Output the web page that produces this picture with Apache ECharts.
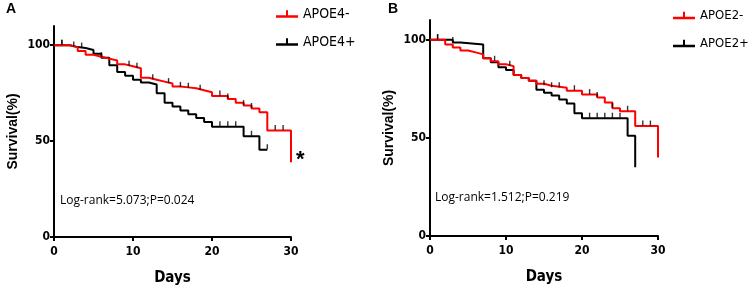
<!DOCTYPE html>
<html>
<head>
<meta charset="utf-8">
<script src="https://cdn.jsdelivr.net/npm/echarts@6/dist/echarts.min.js"></script>
<style>
  html, body { margin: 0; padding: 0; background: #fff; }
  #chart { width: 749px; height: 291px; }
</style>
</head>
<body>
<div id="chart"></div>
<script>
// 面板 A：APOE4
var aNegDays = [0, 2, 3, 4, 5, 6, 7, 8, 9, 10, 11, 12, 13, 14, 15, 16, 17, 18, 19, 20, 22, 23, 24, 25, 26, 27, 30];
var aNegSurv = [100, 99, 97, 95, 94, 93, 92, 90, 89, 88, 83, 82, 81, 80, 78.5, 78, 77.5, 76.5, 75.5, 73.5, 72, 70, 68.5, 67, 65, 55.5, 39];
var aPosDays = [0, 2, 3, 4, 5, 6, 7, 8, 9, 10, 11, 12, 13, 14, 15, 16, 17, 18, 19, 20, 24, 26, 27];
var aPosSurv = [100, 99, 98.5, 97.5, 95.5, 93.5, 89.5, 86, 84, 82, 80.5, 79.5, 75, 70, 68, 66, 64, 62, 60, 57.5, 52.5, 45.5, 45.5];
var aNegCensor = [1, 9.5, 10.5, 12.5, 14.5, 16, 17, 18.5, 21, 22, 24, 25, 28, 29];
var aPosCensor = [1, 2.5, 3.5, 6, 21, 22, 23, 25, 27];

// 面板 B：APOE2
var bNegDays = [0, 2, 3, 4, 5, 6, 7, 8, 9, 10, 11, 12, 13, 14, 15, 16, 18, 20, 22, 23, 24, 25, 27, 30];
var bNegSurv = [100, 97.5, 96, 94.5, 93.5, 92.5, 90.5, 89, 87.5, 86.5, 82, 80.5, 79, 77.5, 76.5, 75.5, 74, 72, 70.5, 68, 65, 63.5, 56, 40];
var bPosDays = [0, 3, 4, 7, 8, 9, 10, 11, 12, 13, 14, 15, 16, 17, 18, 19, 20, 26, 27];
var bPosSurv = [100, 98.5, 97.5, 90.5, 88.5, 86, 84.5, 82, 80.5, 79, 74.5, 73, 71.5, 69.5, 67.5, 62.5, 60, 51, 35];
var bNegCensor = [1, 8.5, 10.5, 15, 16, 17, 19, 21, 22, 24, 26, 28, 29];
var bPosCensor = [1, 3, 21, 22, 23, 24, 25];

var yTicks = [0, 50, 100];

function pairs(days, surv) {
    return days.map(function (d, i) { return [d, surv[i]]; });
}
// 删失点落在阶梯曲线上
function censorPts(times, days, surv) {
    return times.map(function (t) {
        var v = surv[0];
        for (var i = 0; i < days.length; i++) {
            if (days[i] <= t) v = surv[i];
        }
        return [t, v];
    });
}

var axisFont = "'DejaVu Sans Condensed', 'Liberation Sans', sans-serif";
var legendIcon = 'path://M0,7h22v2.4H0z M10,2h2v5h-2z';

function xAxis(idx) {
    return {
        gridIndex: idx, type: 'value', min: 0, max: 30, interval: 10,
        name: 'Days', nameLocation: 'middle', nameGap: 34,
        nameTextStyle: { color: '#000', fontSize: 15, fontWeight: 'bold', fontFamily: axisFont },
        axisLine: { lineStyle: { color: '#000', width: 2 } },
        axisTick: { length: 4, lineStyle: { width: 2, color: '#000' } },
        axisLabel: { color: '#000', fontSize: 12, fontWeight: 'bold', fontFamily: axisFont, margin: 9 },
        splitLine: { show: false }
    };
}
function yAxis(idx) {
    return {
        gridIndex: idx, type: 'value', min: 0, max: 110,
        name: 'Survival(%)', nameLocation: 'middle', nameGap: 34,
        nameTextStyle: { color: '#000', fontSize: 14, fontWeight: 'bold', fontFamily: 'Liberation Sans' },
        axisLine: { show: true, lineStyle: { color: '#000', width: 2 } },
        axisTick: { show: true, length: 4, customValues: yTicks, lineStyle: { width: 2, color: '#000' } },
        axisLabel: { color: '#000', fontSize: 12, fontWeight: 'bold', fontFamily: axisFont, margin: 4, customValues: yTicks },
        splitLine: { show: false }
    };
}
function kmLine(name, idx, days, surv, color, z) {
    return {
        name: name, type: 'line', step: 'end', xAxisIndex: idx, yAxisIndex: idx,
        data: pairs(days, surv), showSymbol: false, symbol: 'none', z: z,
        lineStyle: { color: color, width: 2 }, itemStyle: { color: color },
        animation: false
    };
}
function censor(idx, times, days, surv) {
    return {
        name: 'censor' + idx, type: 'scatter', xAxisIndex: idx, yAxisIndex: idx,
        data: censorPts(times, days, surv),
        symbol: 'rect', symbolSize: [1.4, 5], symbolOffset: [0, -3], z: 5,
        itemStyle: { color: '#000' }, silent: true, animation: false
    };
}

var chart = echarts.init(document.getElementById('chart'));
var option = {
    backgroundColor: '#fff',
    animation: false,
    grid: [
        { left: 54, top: 26, width: 237, height: 211 },
        { left: 430, top: 20, width: 228, height: 216 }
    ],
    xAxis: [xAxis(0), xAxis(1)],
    yAxis: [yAxis(0), yAxis(1)],
    legend: [
        {
            orient: 'vertical', left: 276, top: 7, padding: 0, itemWidth: 22, itemHeight: 10, itemGap: 14,
            textStyle: { color: '#000', fontSize: 14, fontFamily: axisFont },
            data: [{ name: 'APOE4-', icon: legendIcon }, { name: 'APOE4+', icon: legendIcon }]
        },
        {
            orient: 'vertical', left: 673, top: 9, padding: 0, itemWidth: 22, itemHeight: 10, itemGap: 15,
            textStyle: { color: '#000', fontSize: 13, fontFamily: axisFont },
            data: [{ name: 'APOE2-', icon: legendIcon }, { name: 'APOE2+', icon: legendIcon }]
        }
    ],
    graphic: [
        { type: 'text', left: 6, top: 2, style: { text: 'A', fontSize: 14, fontWeight: 'bold', fontFamily: 'Liberation Sans', fill: '#000' } },
        { type: 'text', left: 388, top: 2, style: { text: 'B', fontSize: 14, fontWeight: 'bold', fontFamily: 'Liberation Sans', fill: '#000' } },
        { type: 'text', left: 60, top: 195, style: { text: 'Log-rank=5.073;P=0.024', fontSize: 12, fontFamily: 'Open Sans', fill: '#000' } },
        { type: 'text', left: 435, top: 192, style: { text: 'Log-rank=1.512;P=0.219', fontSize: 12, fontFamily: 'Open Sans', fill: '#000' } },
        { type: 'text', left: 296, top: 149, style: { text: '*', fontSize: 22, fontWeight: 'bold', fontFamily: 'Liberation Sans', fill: '#000' } }
    ],
    series: [
        kmLine('APOE4-', 0, aNegDays, aNegSurv, '#ff0000', 3),
        kmLine('APOE4+', 0, aPosDays, aPosSurv, '#000000', 2),
        kmLine('APOE2-', 1, bNegDays, bNegSurv, '#ff0000', 3),
        kmLine('APOE2+', 1, bPosDays, bPosSurv, '#000000', 2),
        censor(0, aNegCensor, aNegDays, aNegSurv),
        censor(0, aPosCensor, aPosDays, aPosSurv),
        censor(1, bNegCensor, bNegDays, bNegSurv),
        censor(1, bPosCensor, bPosDays, bPosSurv)
    ]
};
chart.setOption(option);
</script>
</body>
</html>
